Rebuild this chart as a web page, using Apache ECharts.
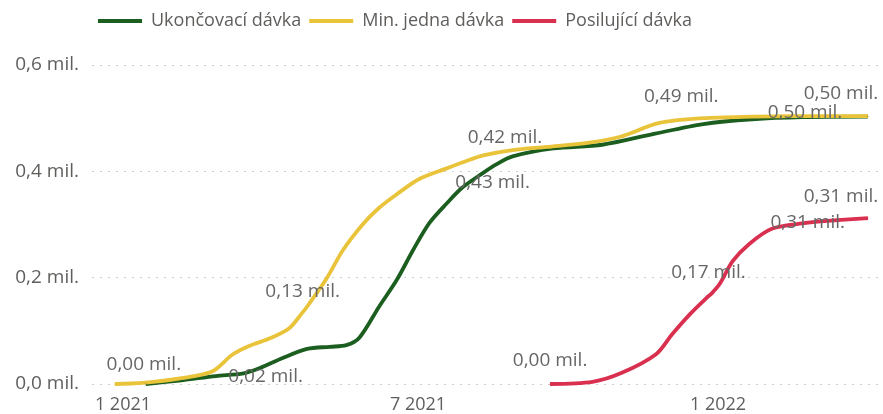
<!DOCTYPE html>
<html>
<head>
<meta charset="utf-8">
<script src="https://cdn.jsdelivr.net/npm/echarts@6/dist/echarts.min.js"></script>
<style>
  html, body { margin: 0; padding: 0; background: #fff; }
  #chart { width: 883px; height: 414px; }
</style>
</head>
<body>
<div id="chart"></div>
<script>
// values in millions of people
const seriesNames = ['Ukončovací dávka', 'Min. jedna dávka', 'Posilující dávka'];

const ukoncovaciDates = ['2021-01-15', '2021-02-06', '2021-02-27', '2021-03-16', '2021-03-26', '2021-04-09',
  '2021-04-24', '2021-05-08', '2021-05-18', '2021-05-26', '2021-06-07', '2021-06-18', '2021-06-28',
  '2021-07-08', '2021-07-19', '2021-07-28', '2021-08-08', '2021-08-18', '2021-08-28', '2021-09-22',
  '2021-10-22', '2021-11-22', '2021-12-23', '2022-01-22', '2022-02-22', '2022-04-03'];
const ukoncovaciValues = [0.000, 0.007, 0.015, 0.020, 0.030, 0.049,
  0.066, 0.070, 0.073, 0.087, 0.145, 0.196, 0.252,
  0.303, 0.341, 0.369, 0.393, 0.413, 0.428, 0.443,
  0.450, 0.470, 0.489, 0.498, 0.502, 0.503];

const jednaDates = ['2020-12-27', '2021-01-13', '2021-02-06', '2021-02-25', '2021-03-09', '2021-03-19',
  '2021-04-02', '2021-04-13', '2021-04-20', '2021-04-25', '2021-05-06', '2021-05-16', '2021-05-28',
  '2021-06-07', '2021-06-18', '2021-07-02', '2021-07-19', '2021-07-31', '2021-08-10', '2021-08-28',
  '2021-09-18', '2021-10-14', '2021-11-02', '2021-11-26', '2021-12-23', '2022-01-22', '2022-02-14',
  '2022-04-03'];
const jednaValues = [0.000, 0.002, 0.011, 0.024, 0.055, 0.071,
  0.087, 0.105, 0.130, 0.150, 0.199, 0.252, 0.300,
  0.331, 0.357, 0.386, 0.406, 0.420, 0.430, 0.440,
  0.446, 0.454, 0.465, 0.491, 0.500, 0.503, 0.504,
  0.504];

const posilujiciDates = ['2021-09-20', '2021-10-16', '2021-11-03', '2021-11-24', '2021-12-04', '2021-12-15',
  '2021-12-25', '2021-12-28', '2022-01-02', '2022-01-10', '2022-01-20', '2022-02-03', '2022-02-24',
  '2022-03-05', '2022-04-03'];
const posilujiciValues = [0.000, 0.004, 0.021, 0.056, 0.094, 0.132,
  0.162, 0.170, 0.188, 0.231, 0.263, 0.292, 0.303,
  0.306, 0.312];

// points that carry a data label
const ukoncovaciLabelDates = ['2021-03-16', '2021-08-28', '2022-04-03'];
const jednaLabelDates = ['2020-12-27', '2021-04-20', '2021-07-31', '2021-11-26', '2022-04-03'];
const posilujiciLabelDates = ['2021-09-20', '2021-12-28', '2022-03-05', '2022-04-03'];

const xTickDates = ['2021-01-01', '2021-07-01', '2022-01-01'];
const yTicks = [0, 0.2, 0.4, 0.6];

const colors = ['#1b5e1f', '#e9c43b', '#d9304f'];
const fontFamily = '"Open Sans", sans-serif';

function parseDay(s) {
  let p = s.split('-');
  return new Date(+p[0], +p[1] - 1, +p[2]).getTime();
};

function fmtMil(v, digits) {
  return v.toFixed(digits).replace('.', ',') + ' mil.';
};

// label placement (pixel offsets of the label centre from its point)
const labelOffsets = {
  'Ukončovací dávka': {'2021-03-16': [22, 3], '2021-08-28': [-20, 26], '2022-04-03': [-63, -4]},
  'Min. jedna dávka': {'2020-12-27': [29, -19], '2021-04-20': [2, -23], '2021-07-31': [38, -23],
    '2021-11-26': [22, -26], '2022-04-03': [-27, -22]},
  'Posilující dávka': {'2021-09-20': [0, -23], '2021-12-28': [-3, -21], '2022-03-05': [-13, 1],
    '2022-04-03': [-27, -22]}
};

function buildData(dates, values, labelDates) {
  return dates.map((d, i) => {
    let item = {value: [parseDay(d), values[i]]};
    if (labelDates.indexOf(d) >= 0)
    {
      item.label = {show: true, formatter: () => fmtMil(values[i], 2)};
    };
    return item;
  });
};

function makeSeries(name, dates, values, labelDates, color) {
  let offsets = labelOffsets[name];
  return {
    name: name,
    type: 'line',
    smooth: 0.3,
    symbol: 'circle',
    symbolSize: 1,
    showSymbol: true,
    showAllSymbol: true,
    itemStyle: {color: color},
    lineStyle: {color: color, width: 3.8},
    emphasis: {disabled: true},
    label: {
      show: false,
      position: 'inside',
      color: '#666666',
      fontFamily: fontFamily,
      fontSize: 19
    },
    labelLayout: (params) => {
      let off = offsets[dates[params.dataIndex]];
      if (!off) return {};
      let r = params.rect;
      return {
        x: r.x + r.width / 2 + off[0],
        y: r.y + r.height / 2 + off[1],
        align: 'center',
        verticalAlign: 'middle',
        hideOverlap: false
      };
    },
    data: buildData(dates, values, labelDates)
  };
};

let chart = echarts.init(document.getElementById('chart'), null, {renderer: 'canvas'});
chart.setOption({
  animation: false,
  color: colors,
  legend: {
    top: 7,
    left: 93,
    icon: 'rect',
    itemWidth: 44,
    itemHeight: 4,
    itemGap: 8,
    textStyle: {color: '#605e5c', fontFamily: fontFamily, fontSize: 18, padding: [0, 0, 0, 4]},
    data: seriesNames
  },
  grid: {left: 92, right: 2, top: 65, bottom: 30, containLabel: false},
  xAxis: {
    type: 'value',
    min: parseDay('2020-12-13'),
    max: parseDay('2022-04-11'),
    axisLine: {show: false},
    axisTick: {show: false},
    splitLine: {show: false},
    axisLabel: {
      customValues: xTickDates.map(parseDay),
      color: '#605e5c',
      fontFamily: fontFamily,
      fontSize: 18,
      margin: 12,
      formatter: (val) => {
        let d = new Date(val);
        return (d.getMonth() + 1) + ' ' + d.getFullYear();
      }
    }
  },
  yAxis: {
    type: 'value',
    min: yTicks[0],
    max: yTicks[yTicks.length - 1],
    interval: 0.2,
    axisLine: {show: false},
    axisTick: {show: false},
    splitLine: {lineStyle: {color: '#cfcfcf', width: 1, type: [2, 6]}},
    axisLabel: {
      color: '#605e5c',
      fontFamily: fontFamily,
      fontSize: 19,
      margin: 13,
      formatter: (v) => fmtMil(v, 1)
    }
  },
  series: [
    makeSeries(seriesNames[0], ukoncovaciDates, ukoncovaciValues, ukoncovaciLabelDates, colors[0]),
    makeSeries(seriesNames[1], jednaDates, jednaValues, jednaLabelDates, colors[1]),
    makeSeries(seriesNames[2], posilujiciDates, posilujiciValues, posilujiciLabelDates, colors[2])
  ]
});
</script>
</body>
</html>
